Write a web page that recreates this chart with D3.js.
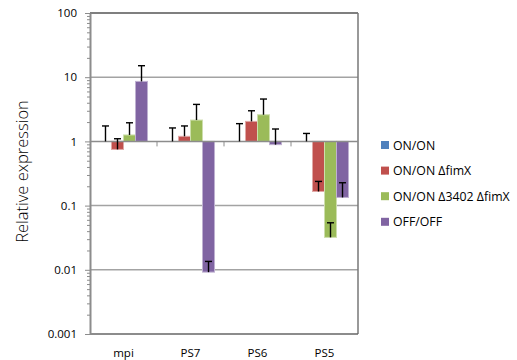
<!DOCTYPE html>
<html>
<head>
<meta charset="utf-8">
<script src="https://cdn.jsdelivr.net/npm/d3@7"></script>
<style>
  body { margin: 0; background: #fff; }
  text { font-family: "Open Sans", "Liberation Sans", sans-serif; fill: #000; }
</style>
</head>
<body>
<div id="chart"></div>
<script>
// categories and series
var categories = ["mpi", "PS7", "PS6", "PS5"];
var seriesNames = ["ON/ON", "ON/ON \u0394fimX", "ON/ON \u03943402 \u0394fimX", "OFF/OFF"];
var seriesColors = ["#4F81BD", "#C0504D", "#9BBB59", "#8064A2"];
var edgeColors = ["#a7c0de", "#e0a8a6", "#cddeac", "#bfb1d1"];

// values (relative expression) per series
var onOn = [1, 1, 1, 1];
var onOnFimX = [0.75, 1.2, 2.05, 0.166];
var onOn3402FimX = [1.26, 2.15, 2.6, 0.032];
var offOff = [8.6, 0.0092, 0.89, 0.134];

// plus error amounts per series
var onOnErr = [0.74, 0.62, 0.89, 0.33];
var onOnFimXErr = [0.35, 0.54, 0.95, 0.072];
var onOn3402FimXErr = [0.69, 1.62, 1.97, 0.022];
var offOffErr = [6.5, 0.0043, 0.67, 0.093];

var yTicks = [0.001, 0.01, 0.1, 1, 10, 100];
var yTickLabels = ["0.001", "0.01", "0.1", "1", "10", "100"];

var seriesValues = [onOn, onOnFimX, onOn3402FimX, offOff];
var seriesErrs = [onOnErr, onOnFimXErr, onOn3402FimXErr, offOffErr];

var w = 517, h = 360;
var plotLeft = 90, plotRight = 358, plotTop = 13, plotBottom = 334;

var svg = d3.select("#chart").append("svg")
  .attr("width", w).attr("height", h);

//SCALES
var yScale = d3.scaleLog().domain([0.001, 100]).range([plotBottom, plotTop]);
var xScale = d3.scaleBand().domain(categories).range([plotLeft, plotRight]).padding(0);
var xInner = d3.scaleBand().domain(d3.range(4)).range([0, xScale.bandwidth()])
  .paddingInner(0).paddingOuter(0.79);

//GRIDLINES
svg.append("g")
  .selectAll("line")
  .data([0.01, 0.1, 10])
  .enter().append("line")
  .attr("x1", plotLeft).attr("x2", plotRight)
  .attr("y1", d => yScale(d)).attr("y2", d => yScale(d))
  .attr("stroke", "#a3a3a3").attr("stroke-width", 1.5);

// top border, right border, bottom line
svg.append("line")
  .attr("x1", plotLeft).attr("x2", plotRight)
  .attr("y1", yScale(100)).attr("y2", yScale(100))
  .attr("stroke", "#000").attr("stroke-width", 1.2);
svg.append("line")
  .attr("x1", plotRight).attr("x2", plotRight)
  .attr("y1", yScale(100)).attr("y2", plotBottom)
  .attr("stroke", "#777").attr("stroke-width", 1.5);
svg.append("line")
  .attr("x1", plotLeft).attr("x2", plotRight)
  .attr("y1", plotBottom).attr("y2", plotBottom)
  .attr("stroke", "#666").attr("stroke-width", 1.5);

//BARS
var groups = svg.append("g")
  .selectAll("g")
  .data(seriesValues)
  .enter().append("g")
  .attr("fill", (d, i) => seriesColors[i])
  .attr("stroke", (d, i) => edgeColors[i]);

groups.each(function(vals, si) {
  d3.select(this).selectAll("rect")
    .data(vals)
    .enter().append("rect")
    .attr("x", (d, ci) => xScale(categories[ci]) + xInner(si))
    .attr("width", xInner.bandwidth())
    .attr("y", d => Math.min(yScale(d), yScale(1)))
    .attr("height", d => Math.abs(yScale(d) - yScale(1)))
    .attr("stroke-width", 1);
});

//X AXIS AT 1
svg.append("line")
  .attr("x1", plotLeft).attr("x2", plotRight)
  .attr("y1", yScale(1)).attr("y2", yScale(1))
  .attr("stroke", "#8c8c8c").attr("stroke-width", 1.5);
svg.append("g")
  .selectAll("line")
  .data(categories.slice(1))
  .enter().append("line")
  .attr("x1", d => xScale(d)).attr("x2", d => xScale(d))
  .attr("y1", yScale(1)).attr("y2", yScale(1) + 5)
  .attr("stroke", "#8c8c8c").attr("stroke-width", 1);

//ERROR BARS
seriesValues.forEach(function(vals, si) {
  var eg = svg.append("g").attr("stroke", "#000").attr("stroke-width", 1.4);
  vals.forEach(function(v, ci) {
    var cx = xScale(categories[ci]) + xInner(si) + xInner.bandwidth() / 2;
    var y0 = yScale(v), y1 = yScale(v + seriesErrs[si][ci]);
    eg.append("line").attr("x1", cx).attr("x2", cx).attr("y1", y0).attr("y2", y1);
    eg.append("line").attr("x1", cx - 3.5).attr("x2", cx + 3.5).attr("y1", y1).attr("y2", y1);
  });
});

//Y AXIS
var minorTicks = [];
yTicks.slice(0, -1).forEach(function(t) {
  for (var k = 2; k <= 9; k++) minorTicks.push(t * k);
});
svg.append("g")
  .attr("transform", "translate(" + plotLeft + ",0)")
  .call(d3.axisLeft(yScale).tickValues(minorTicks).tickSize(3).tickFormat(""))
  .call(g => g.select(".domain").remove())
  .selectAll("line").attr("stroke", "#8c8c8c");

var yAxis = svg.append("g")
  .attr("transform", "translate(" + plotLeft + ",0)")
  .call(d3.axisLeft(yScale).tickValues(yTicks).tickSize(5).tickPadding(8)
    .tickFormat((d, i) => yTickLabels[i]).tickSizeOuter(0));
yAxis.select(".domain").attr("stroke", "#8c8c8c").attr("stroke-width", 2);
yAxis.selectAll(".tick line").attr("stroke", "#8c8c8c");
yAxis.selectAll("text").style("font-size", "11.5px")
  .style("font-family", "'Open Sans', sans-serif").attr("fill", "#000");

//CATEGORY LABELS
svg.append("g")
  .selectAll("text")
  .data(categories)
  .enter().append("text")
  .attr("x", d => xScale(d) + xScale.bandwidth() / 2)
  .attr("y", 357)
  .attr("text-anchor", "middle")
  .style("font-size", "11.5px")
  .text(d => d);

//Y TITLE
svg.append("text")
  .attr("transform", "translate(28," + ((plotTop + plotBottom) / 2 - 2) + ") rotate(-90)")
  .attr("text-anchor", "middle")
  .style("font-size", "16.5px")
  .style("font-weight", 300)
  .text("Relative expression");

//LEGEND
var legend = svg.append("g")
  .selectAll("g")
  .data(seriesNames)
  .enter().append("g")
  .attr("transform", (d, i) => "translate(381," + (141 + i * 25.6) + ")");
legend.append("rect")
  .attr("width", 8).attr("height", 8)
  .attr("fill", (d, i) => seriesColors[i]);
legend.append("text")
  .attr("x", 12).attr("y", 8.5)
  .style("font-size", "12.3px")
  .text(d => d);
</script>
</body>
</html>
